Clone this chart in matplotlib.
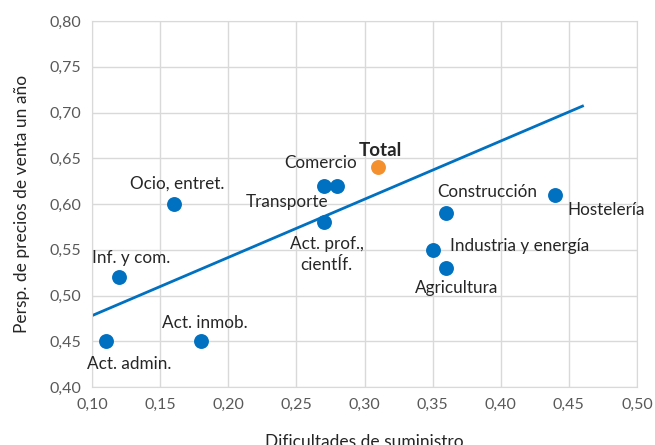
import matplotlib
matplotlib.use("Agg")
import matplotlib.pyplot as plt
from matplotlib.ticker import FuncFormatter, MultipleLocator

plt.rcParams['font.family'] = ['Lato', 'DejaVu Sans']

# Sectores: dificultades de suministro (x) y perspectivas de precios (y)
sectors = ["Act. admin.", "Inf. y com.", "Ocio, entret.", "Act. inmob.",
           "Comercio", "Transporte", "Act. prof.,\ncientÍf.", "Construcción",
           "Industria y energía", "Agricultura", "Hostelería"]
supply = [0.11, 0.12, 0.16, 0.18, 0.28, 0.27, 0.27, 0.36, 0.35, 0.36, 0.44]
prices = [0.45, 0.52, 0.60, 0.45, 0.62, 0.62, 0.58, 0.59, 0.55, 0.53, 0.61]

total_x = 0.31
total_y = 0.64

# recta de tendencia
trend_x = [0.10, 0.46]
trend_y = [0.478, 0.707]

# desplazamiento de cada etiqueta (pixeles) y alineacion
label_off = [(24, -23), (12, 19), (3, 20), (4, 18), (-17, 23), (-37, -16),
             (3, -32), (41, 21), (17, 4), (10, -20), (51, -15)]
label_ha = ['center'] * 8 + ['left', 'center', 'center']

blue = '#0070C0'
orange = '#F5902E'
txt = '#262626'

fig = plt.figure(figsize=(6.55, 4.45), dpi=100)
ax = fig.add_axes([0.1405, 0.1303, 0.832, 0.8225])

ax.plot(trend_x, trend_y, color=blue, lw=2, zorder=2)
ax.scatter(supply, prices, s=115, color=blue, zorder=3, linewidths=0)
ax.scatter([total_x], [total_y], s=115, color=orange, zorder=3, linewidths=0)

for name, x, y, off, ha in zip(sectors, supply, prices, label_off, label_ha):
    ax.annotate(name, (x, y), xytext=off, textcoords='offset pixels',
                ha=ha, va='center', fontsize=12.3, color=txt,
                linespacing=1.35)
ax.annotate("Total", (total_x, total_y), xytext=(2, 17),
            textcoords='offset pixels', ha='center', va='center',
            fontsize=13.5, fontweight='bold', color=txt)

ax.set_xlim(0.10, 0.50)
ax.set_ylim(0.40, 0.80)
ax.xaxis.set_major_locator(MultipleLocator(0.05))
ax.yaxis.set_major_locator(MultipleLocator(0.05))
fmt = FuncFormatter(lambda v, p: f"{v:.2f}".replace('.', ','))
ax.xaxis.set_major_formatter(fmt)
ax.yaxis.set_major_formatter(fmt)
ax.tick_params(length=0, labelsize=11.5, labelcolor='#595959', pad=8)
ax.grid(color='#D9D9D9', lw=1)
ax.set_axisbelow(True)
for s in ax.spines.values():
    s.set_color('#D9D9D9')

ax.set_xlabel("Dificultades de suministro", fontsize=12.5, color=txt, labelpad=16)
ax.set_ylabel("Persp. de precios de venta un año", fontsize=12.5, color=txt, labelpad=14)

fig.savefig("out.png", dpi=100)
